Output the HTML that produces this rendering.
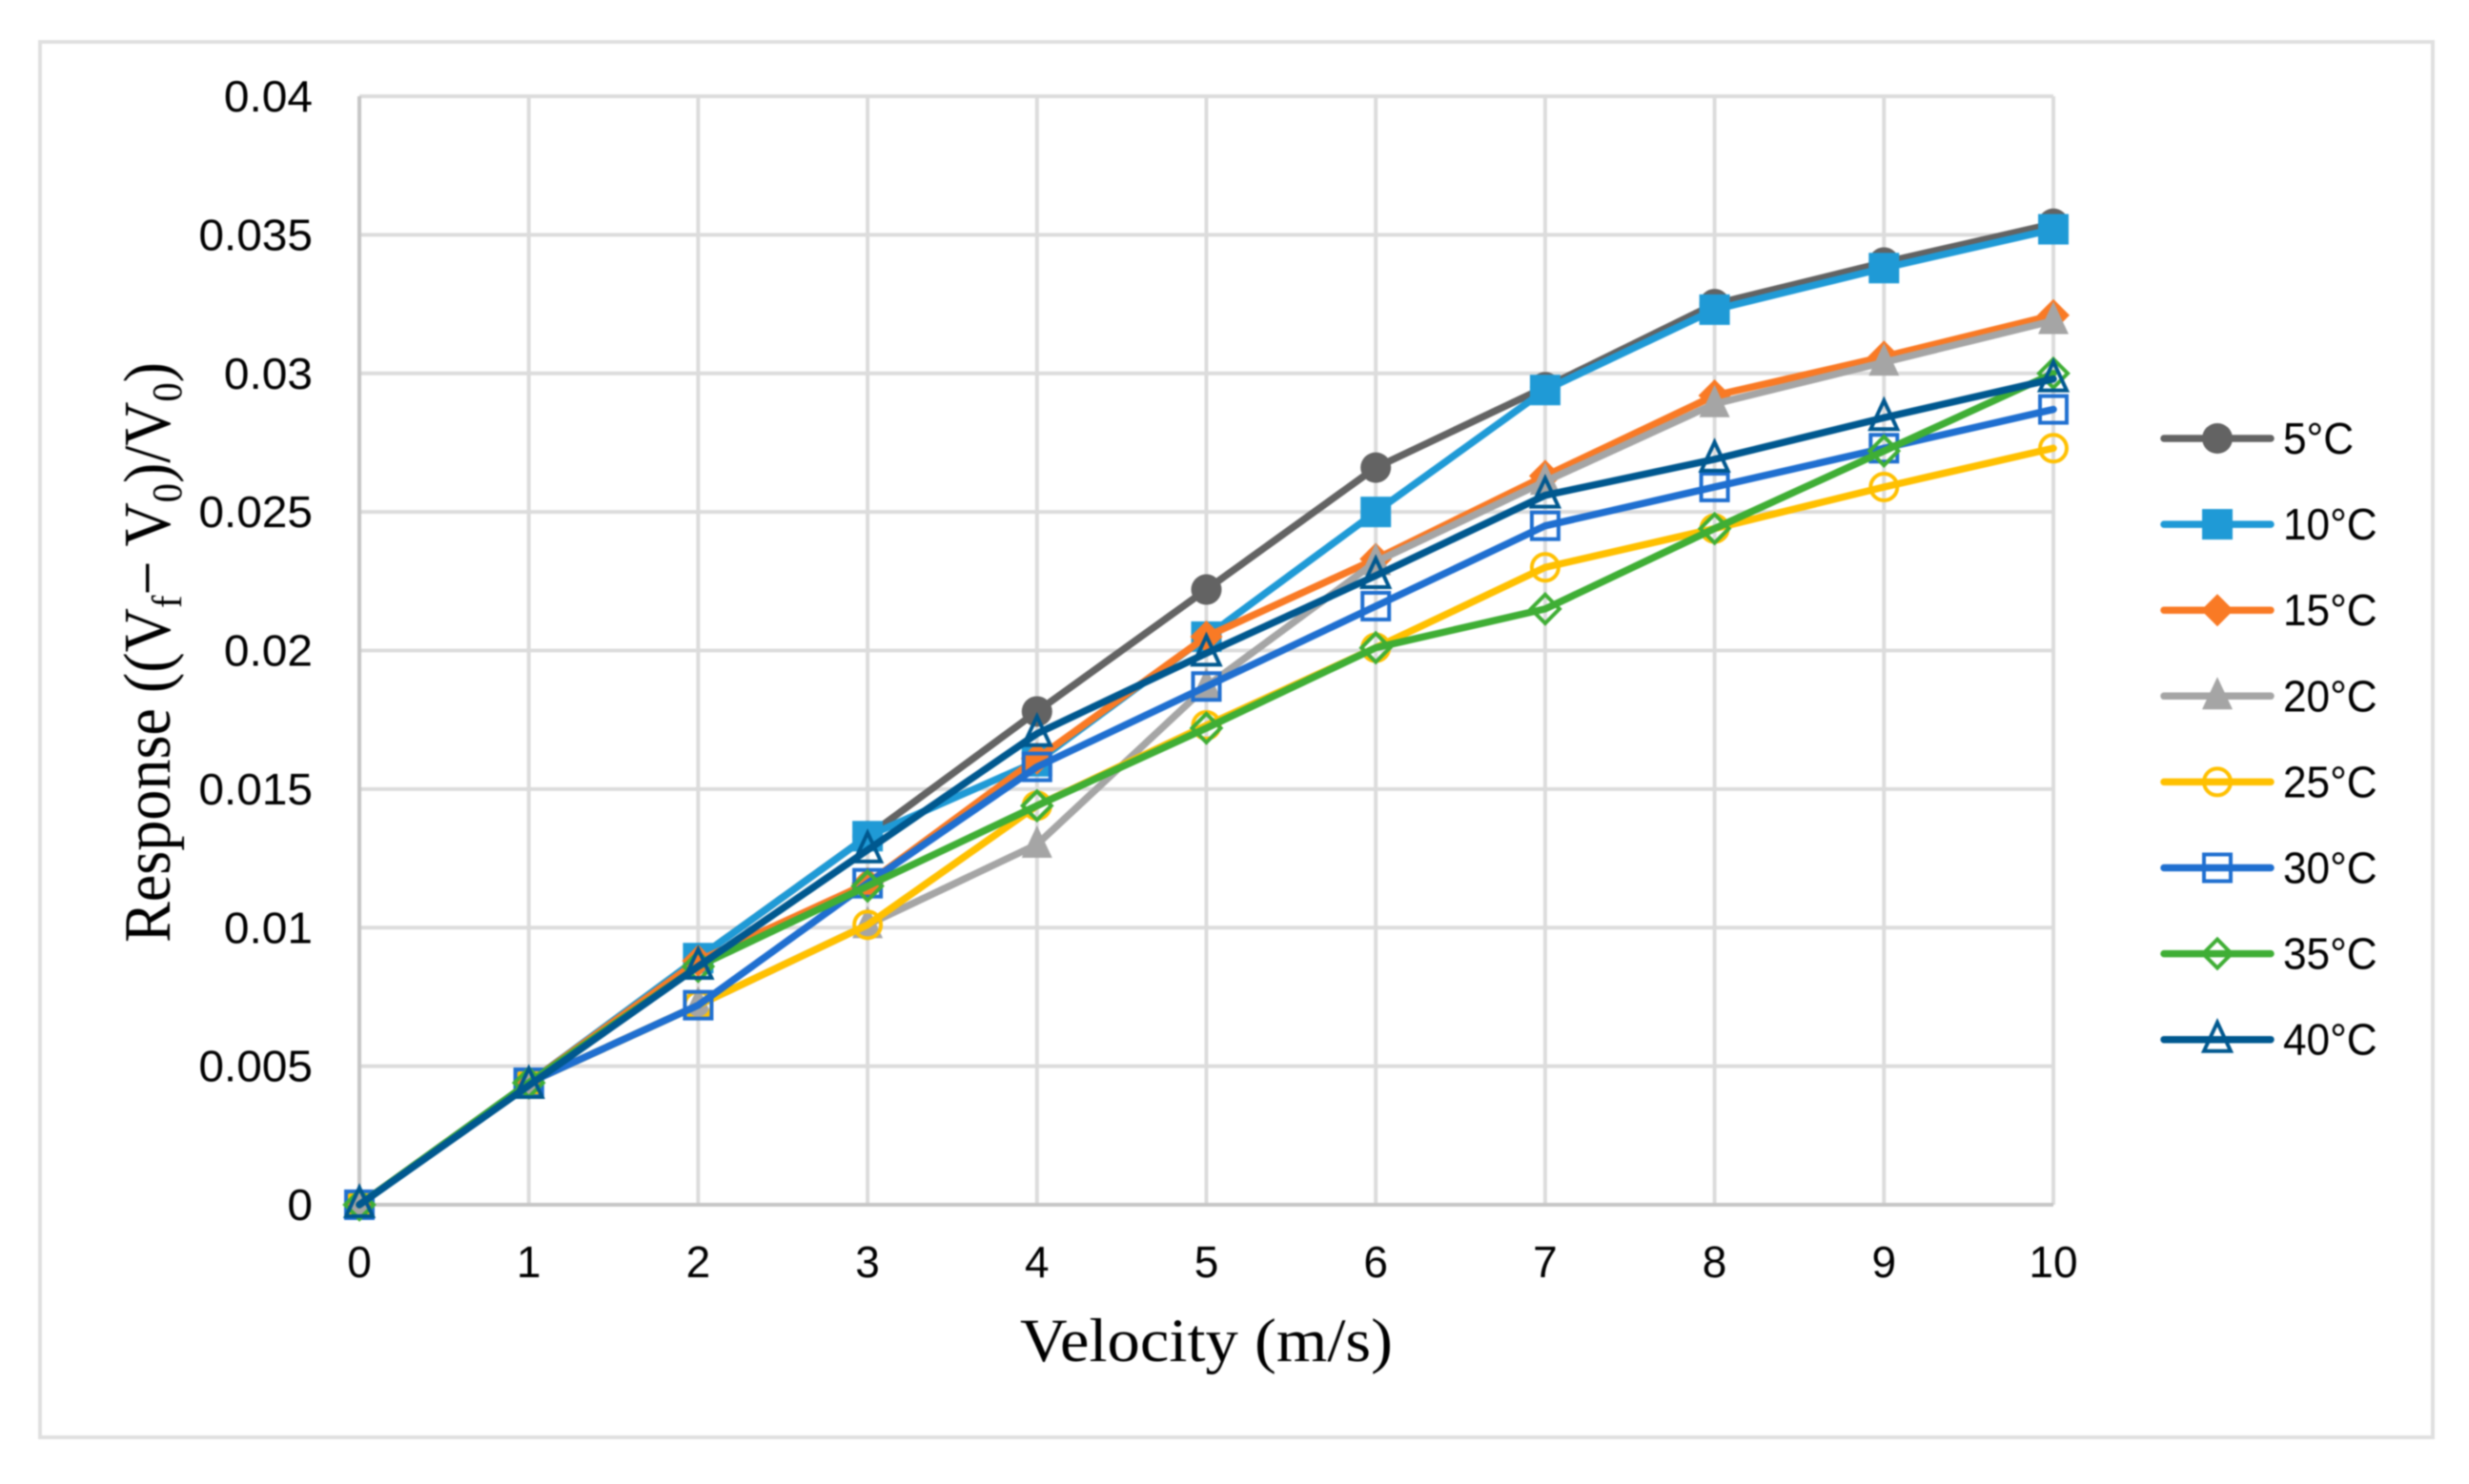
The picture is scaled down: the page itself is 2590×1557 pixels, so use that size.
<!DOCTYPE html>
<html lang="en">
<head>
<meta charset="utf-8">
<title>Response vs Velocity</title>
<style>
html,body{margin:0;padding:0;background:#fff;width:2590px;height:1557px;overflow:hidden}
svg{display:block;filter:blur(0.9px)}
.tick{font-family:"Liberation Sans",sans-serif;font-size:46px;fill:#000}
.title{font-family:"Liberation Serif",serif;fill:#000}
</style>
</head>
<body>
<svg id="chart" xmlns="http://www.w3.org/2000/svg" width="2590" height="1557" viewBox="0 0 2590 1557">
  <rect x="42" y="44" width="2510" height="1464" fill="#fff" stroke="#e0e0e0" stroke-width="4"/>
  <g id="grid"></g>
  <g id="axes"></g>
  <g id="series"></g>
  <g id="legend"></g>
  <text class="title" x="1070" y="1428" font-size="65" textLength="391" lengthAdjust="spacingAndGlyphs">Velocity (m/s)</text>
  <text class="title" transform="translate(178,989) rotate(-90)" x="0" y="0" font-size="70" textLength="609" lengthAdjust="spacingAndGlyphs">Response ((V<tspan font-size="44" dy="12">f</tspan><tspan dy="-12">− V</tspan><tspan font-size="44" dy="12">0</tspan><tspan dy="-12">)/V</tspan><tspan font-size="44" dy="12">0</tspan><tspan dy="-12">)</tspan></text>
</svg>
<script>
const categories = [0,1,2,3,4,5,6,7,8,9,10];
const yTickValues = [0,0.005,0.01,0.015,0.02,0.025,0.03,0.035,0.04];
const yTickLabels = ["0","0.005","0.01","0.015","0.02","0.025","0.03","0.035","0.04"];
const seriesNames = ["5°C","10°C","15°C","20°C","25°C","30°C","35°C","40°C"];
const temp5  = [0,0.0044,0.0089,0.0133,0.0178,0.0222,0.0266,0.0295,0.0325,0.0340,0.0354];
const temp10 = [0,0.0044,0.0089,0.0133,0.0160,0.0205,0.0250,0.0294,0.0323,0.0338,0.0352];
const temp15 = [0,0.0044,0.0088,0.0116,0.0161,0.0205,0.0233,0.0263,0.0292,0.0306,0.0321];
const temp20 = [0,0.0044,0.0072,0.0101,0.0130,0.0187,0.0232,0.0261,0.0289,0.0304,0.0319];
const temp25 = [0,0.0044,0.0072,0.0101,0.0144,0.0173,0.0201,0.0230,0.0244,0.0259,0.0273];
const temp30 = [0,0.0044,0.0072,0.0116,0.0158,0.0187,0.0216,0.0245,0.0259,0.0273,0.0287];
const temp35 = [0,0.0044,0.0086,0.0115,0.0144,0.0172,0.0201,0.0215,0.0244,0.0272,0.0300];
const temp40 = [0,0.0043,0.0086,0.0128,0.0170,0.0199,0.0227,0.0256,0.0269,0.0284,0.0298];
const seriesValues = [temp5,temp10,temp15,temp20,temp25,temp30,temp35,temp40];
const seriesColors = ["#636363","#1f9ad6","#f97a25","#a5a5a5","#ffc000","#1f6fd0","#3fae35","#00588f"];
const seriesMarkers = ["circle","square","diamond","triangle","circle","square","diamond","triangle"];
const seriesHollow = [false,false,false,false,true,true,true,true];

const NS = "http://www.w3.org/2000/svg";
const plot = {left:377,right:2154,top:101,bottom:1264};
const xMax = 10, yMax = 0.04;
function xScale(v){ return plot.left + v/xMax*(plot.right-plot.left); }
function yScale(v){ return plot.bottom - v/yMax*(plot.bottom-plot.top); }
function make(tag, props, parent){
  const el = document.createElementNS(NS, tag);
  for (const k in props) el.setAttribute(k, props[k]);
  parent.appendChild(el);
  return el;
}
const gridG = document.getElementById("grid");
const axesG = document.getElementById("axes");
const seriesG = document.getElementById("series");
const legendG = document.getElementById("legend");

yTickValues.forEach(function(v,i){
  if (v !== 0) {
    const g = make("line",{x1:plot.left,x2:plot.right,y1:yScale(v),y2:yScale(v),stroke:"#dcdcdc","stroke-width":4},gridG);
    
    
  }
  const t = make("text",{class:"tick","text-anchor":"end",transform:"translate(328,"+(yScale(v)+16)+") scale(1.04,1)"},axesG);
  t.textContent = yTickLabels[i];
  
  
});
categories.forEach(function(c){
  if (c !== 0) {
    const g = make("line",{x1:xScale(c),x2:xScale(c),y1:plot.top,y2:plot.bottom,stroke:"#dcdcdc","stroke-width":4},gridG);
    
    
  }
  const t = make("text",{class:"tick","text-anchor":"middle",transform:"translate("+xScale(c)+",1340) scale(1.0,1)"},axesG);
  t.textContent = String(c);
  
  
});
const yAxisLine = make("line",{x1:plot.left,x2:plot.left,y1:plot.top,y2:plot.bottom+2,stroke:"#c6c6c6","stroke-width":4},axesG);


const xAxisLine = make("line",{x1:plot.left,x2:plot.right,y1:plot.bottom,y2:plot.bottom,stroke:"#c6c6c6","stroke-width":4},axesG);



function drawMarker(kind, hollow, color, cx, cy, parent){
  const paint = hollow ? {fill:"none",stroke:color,"stroke-width":4} : {fill:color,stroke:"none"};
  const r = hollow ? 14 : 16;
  let el;
  if (kind === "circle") {
    el = make("circle",Object.assign({cx:cx,cy:cy,r:r},paint),parent);
  } else if (kind === "square") {
    el = make("rect",Object.assign({x:cx-r,y:cy-r,width:2*r,height:2*r},paint),parent);
  } else if (kind === "diamond") {
    const d = r+1;
    el = make("polygon",Object.assign({points:[cx,cy-d,cx+d,cy,cx,cy+d,cx-d,cy].join(" ")},paint),parent);
  } else {
    const up = r+4, dn = r-2;
    el = make("polygon",Object.assign({points:[cx,cy-up,cx+r,cy+dn,cx-r,cy+dn].join(" ")},paint),parent);
  }
  return el;
}

seriesValues.forEach(function(vals,s){
  const color = seriesColors[s];
  const g = make("g",{},seriesG);
  
  
  const pts = vals.map(function(v,i){ return xScale(categories[i])+","+yScale(v); }).join(" ");
  const line = make("polyline",{points:pts,fill:"none",stroke:color,"stroke-width":7.5,"stroke-linejoin":"round","stroke-linecap":"round"},g);
  
  
  vals.forEach(function(v,i){
    const m = drawMarker(seriesMarkers[s],seriesHollow[s],color,xScale(categories[i]),yScale(v),g);
    
    
  });
});

seriesNames.forEach(function(name,s){
  const y = 460 + s*90.1;
  const color = seriesColors[s];
  const g = make("g",{},legendG);
  
  
  const l = make("line",{x1:2270,x2:2382,y1:y,y2:y,stroke:color,"stroke-width":7.5,"stroke-linecap":"round"},g);
  
  
  const m = drawMarker(seriesMarkers[s],seriesHollow[s],color,2326,y,g);
  
  
  const t = make("text",{class:"tick",transform:"translate(2395,"+(y+16)+") scale(0.96,1)"},g);
  t.textContent = name;
  
  
});
</script>
</body>
</html>
